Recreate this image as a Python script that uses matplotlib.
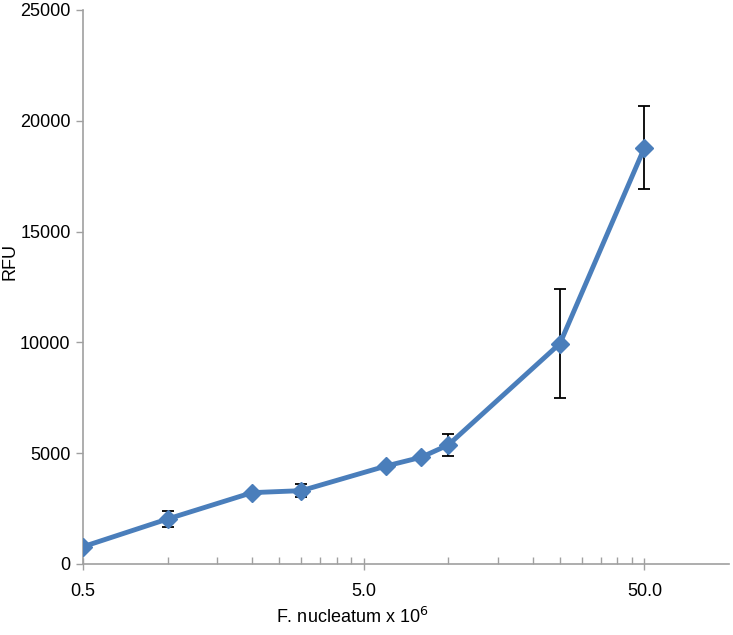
import numpy as np
import matplotlib
matplotlib.use("Agg")
import matplotlib.pyplot as plt
from matplotlib.ticker import FixedLocator, FixedFormatter

plt.rcParams['font.family'] = ['Liberation Sans', 'DejaVu Sans']

# Dane
cells = [0.5, 1.0, 2.0, 3.0, 6.0, 8.0, 10.0, 25.0, 50.0]
rfu = [780, 2030, 3220, 3310, 4420, 4815, 5370, 9950, 18790]
rfu_err = [0, 375, 0, 290, 0, 0, 510, 2460, 1880]

major_ticks = [0.5, 5.0, 50.0]
major_labels = ["0.5", "5.0", "50.0"]
minor_ticks = [b * k for b in (0.5, 5.0) for k in range(2, 10)]

fig = plt.figure(figsize=(7.33, 6.35), dpi=100)
ax = fig.add_axes([83 / 733, 1 - 564 / 635, 646 / 733, 554 / 635])

ax.errorbar(cells, rfu, yerr=rfu_err, fmt="none", ecolor="black",
            elinewidth=1.3, capsize=4, capthick=1.3, zorder=2)
ax.plot(cells, rfu, color="#4a7ebb", lw=3.5, marker="D", ms=9,
        mfc="#4a7ebb", mec="#4a7ebb", zorder=3)

ax.set_xscale("log")
ax.set_xlim(0.5, 100)
ax.set_ylim(0, 25000)
ax.xaxis.set_major_locator(FixedLocator(major_ticks))
ax.xaxis.set_major_formatter(FixedFormatter(major_labels))
ax.xaxis.set_minor_locator(FixedLocator(minor_ticks))
ax.xaxis.set_minor_formatter(FixedFormatter([]))
ax.set_yticks(np.arange(0, 25001, 5000))

for s in ["top", "right"]:
    ax.spines[s].set_visible(False)
for s in ["left", "bottom"]:
    ax.spines[s].set_color("#a0a0a0")
    ax.spines[s].set_linewidth(1.2)

ax.tick_params(axis="x", which="major", direction="inout", length=9,
               color="#a0a0a0", width=1.0, labelsize=13, pad=9)
ax.tick_params(axis="x", which="minor", direction="in", length=5,
               color="#a0a0a0", width=1.0)
ax.tick_params(axis="y", direction="out", length=5, color="#a0a0a0",
               width=1.0, labelsize=13, pad=4)

ax.set_xlabel("F. nucleatum x 10$^{6}$", fontsize=13, va="center")
ax.xaxis.set_label_coords((352 - 83) / 646, (564 - 617) / 554)
ax.set_ylabel("RFU", fontsize=13, va="center")
ax.yaxis.set_label_coords((10 - 83) / 646, (564 - 262) / 554)

fig.savefig("out.png", dpi=100)
